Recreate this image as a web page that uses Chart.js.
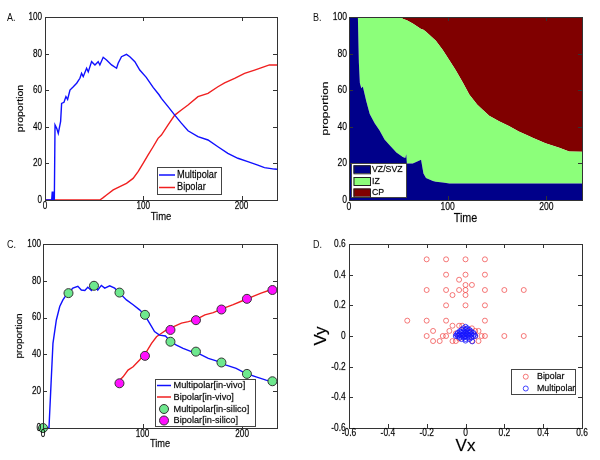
<!DOCTYPE html>
<html>
<head>
<meta charset="utf-8">
<script src="https://cdn.jsdelivr.net/npm/chart.js@4.4.1/dist/chart.umd.min.js"></script>
<style>
  body { margin: 0; background: #fff; font-family: "Liberation Sans", Arial, sans-serif; }
  #page { position: relative; width: 600px; height: 460px; overflow: hidden; }
  .panel { position: absolute; width: 300px; height: 230px; }
  .tag { position: absolute; font-size: 10px; color: #111; line-height: 10px; transform: scaleX(0.9); transform-origin: left; }
</style>
</head>
<body>
<div id="page">
  <div class="panel" style="left:0;top:0"><canvas id="chartA" width="300" height="230"></canvas></div>
  <div class="panel" style="left:300px;top:0"><canvas id="chartB" width="300" height="230"></canvas></div>
  <div class="panel" style="left:0;top:230px"><canvas id="chartC" width="300" height="230"></canvas></div>
  <div class="panel" style="left:300px;top:230px"><canvas id="chartD" width="300" height="230"></canvas></div>
  <div class="tag" style="left:7px;top:13px">A.</div>
  <div class="tag" style="left:313px;top:13px">B.</div>
  <div class="tag" style="left:7px;top:240px">C.</div>
  <div class="tag" style="left:313px;top:240px">D.</div>
</div>
<script>
// ---- A. multipolar / bipolar proportion over time ----
const timeMultiA = [0, 6.8, 7.4, 8.1, 9.5, 10.2, 12, 13.5, 15.9, 16.9, 19.3, 21.3, 23, 25.4, 28.8, 32.2, 35.5, 37.2, 38.9, 42.3, 44, 47.4, 50.8, 54.1, 55.8, 59.2, 62.6, 67.7, 72.8, 74.4, 77.8, 82.9, 86.3, 91.4, 96.4, 103, 110, 116, 118.4, 125.2, 132, 138.7, 145.5, 155.6, 165.8, 175.9, 186, 196.2, 206.3, 216.5, 223.2, 228.3, 233.4, 236];
const multipolarA = [0, 0, 4.6, 0, 0, 41, 39, 36.4, 43, 52.8, 53.4, 56.5, 55, 60.1, 61.9, 63.8, 66.5, 69.2, 67.4, 72, 70, 75.6, 73.8, 75.6, 73.8, 78, 76.5, 73.8, 72, 74.7, 78.3, 79.6, 78.3, 75.6, 71, 67, 61.5, 57.5, 55.5, 51, 46.4, 42, 37.8, 34.6, 32.8, 29.1, 25.5, 22.8, 21, 19.1, 17.7, 17.3, 16.9, 16.8];
const timeBiA = [0, 55.8, 59.2, 62.6, 69.4, 76.1, 82.9, 89.6, 94.7, 99.8, 104.9, 110, 115, 118.4, 125.2, 132, 138.7, 145.5, 155.6, 165.8, 175.9, 182.7, 192.9, 203, 213.2, 223.3, 228.3, 236];
const bipolarA = [0, 0, 1.3, 2.7, 5.5, 7.3, 9.1, 11.8, 15.5, 20, 24.6, 29.1, 33.7, 35.5, 41, 46.4, 49.2, 51.9, 56.5, 58.3, 61.9, 64, 66.5, 69.2, 71, 72.9, 73.8, 73.8];

// ---- B. zone occupancy (stacked shares) ----
const timeB = [0, 9, 10, 11, 12.5, 14, 17.5, 21, 26, 31, 36, 41, 48, 52, 54.5, 57, 58, 58.6, 64.6, 73, 75.4, 78, 85, 88, 95, 101.7, 108, 115, 122, 130, 142, 152, 162, 172, 180, 186, 199, 213, 223, 236];
const vzShare = [100, 100, 75, 64, 61, 62, 54, 47, 42, 38, 33, 30, 26, 24.5, 23.5, 23, 25, 20, 20, 22, 14.5, 12, 10.4, 10, 9.5, 9, 9, 9, 9, 9, 9, 9, 9, 9, 9, 9, 9, 9, 9, 9];
const izShare = [0, 0, 25, 36, 39, 38, 46, 53, 58, 62, 67, 70, 74, 75.5, 75.5, 75.5, 73.3, 78.2, 76.4, 71.5, 78.5, 80, 78.1, 77, 72.5, 67.4, 62, 55.5, 48.5, 43, 37, 34, 31.5, 28.5, 26.5, 25, 22, 19.5, 17.5, 17.3];
const cpShare = [0, 0, 0, 0, 0, 0, 0, 0, 0, 0, 0, 0, 0, 0, 1, 1.5, 1.7, 1.8, 3.6, 6.5, 7, 8, 11.5, 13, 18, 23.6, 29, 35.5, 42.5, 48, 54, 57, 59.5, 62.5, 64.5, 66, 69, 71.5, 73.5, 73.7];

// ---- C. in-vivo vs in-silico ----
const timeMultiC = [0, 6, 8.4, 10, 13.4, 16.8, 20, 23.5, 30, 35, 38.5, 42, 45, 48.6, 52, 55, 58.6, 62, 67, 72, 77, 83.8, 90.5, 97, 102, 107, 112, 117, 123, 128, 134, 140.7, 149, 157.5, 166, 174, 184, 194, 204, 214, 224, 234.5];
const multiVivoC = [0, 0, 27.8, 46, 58.7, 66, 69.6, 72.4, 76, 77, 75, 74.7, 76.5, 74.7, 77.3, 75, 77.5, 76, 77.3, 76, 73.3, 69.6, 67, 64.2, 61.5, 57, 52.4, 50.5, 50, 47, 45, 43.3, 41.5, 40.2, 37.8, 36.5, 34.2, 32.4, 29.6, 27.8, 26, 24.5];
const timeBiC = [77, 80.4, 85.4, 90.5, 97, 104, 109, 114, 119, 124, 130.7, 139, 146, 154, 162.6, 171, 181, 191, 201, 211, 219, 228, 234.5];
const biVivoC = [26, 27.8, 31.5, 33.3, 37, 41.5, 46, 49.6, 51.5, 53.3, 55, 57, 57.8, 59, 61.5, 62.7, 65, 67, 69.3, 71.5, 73.3, 75, 75.5];
const timeSilicoMulti = [0, 25.6, 51.2, 76.8, 102.4, 128, 153.6, 179.2, 204.8, 230.4];
const multiSilicoC = [0, 73.3, 77.3, 73.6, 61.5, 46.9, 41.5, 35.6, 29.4, 25.4];
const timeSilicoBi = [76.8, 102.4, 128, 153.6, 179.2, 204.8, 230.4];
const biSilicoC = [24.3, 39.2, 53.3, 58.6, 64.4, 70.2, 75];

// ---- D. velocity scatter ----
const bipolarVx = [-0.2, -0.1, 0, 0.1, -0.1, 0, 0.1, -0.033, 0, 0.033, -0.2, -0.1, -0.033, 0, 0.1, 0.2, 0.3, -0.067, 0, -0.1, 0, 0.1, -0.3, -0.2, -0.1, 0.1, -0.2, -0.1, 0, 0.1, 0.2, 0.3, -0.167, -0.167, -0.133, -0.117, -0.067, -0.083, -0.067, -0.05, -0.033, -0.017, 0.033, 0.067, 0.083, 0.067, 0.05, 0.033, -0.05, 0.017, 0.05, -0.033];
const bipolarVy = [0.5, 0.5, 0.5, 0.5, 0.4, 0.4, 0.4, 0.367, 0.333, 0.333, 0.3, 0.3, 0.3, 0.3, 0.3, 0.3, 0.3, 0.267, 0.267, 0.2, 0.2, 0.2, 0.1, 0.1, 0.1, 0.1, 0, 0, 0, 0, 0, 0, 0.033, -0.033, -0.033, 0, 0.067, 0.033, -0.033, -0.033, 0.067, 0.067, 0.05, 0.033, 0, -0.033, 0, -0.033, 0.017, 0.033, 0.033, -0.017];
const multipolarVx = [0, -0.01, 0.01, -0.02, 0, 0.02, -0.03, -0.01, 0.01, 0.03, -0.04, -0.02, 0, 0.02, 0.04, -0.045, -0.03, -0.01, 0.01, 0.03, 0.045, -0.04, -0.02, 0, 0.02, 0.04, 0.05, -0.05, -0.03, -0.01, 0.01, 0.03, -0.02, 0, 0.02, 0.035, 0, -0.015, 0.015, 0.005, -0.005, 0.025, -0.025, 0.005, -0.035];
const multipolarVy = [0.06, 0.05, 0.05, 0.04, 0.04, 0.04, 0.03, 0.03, 0.03, 0.03, 0.02, 0.02, 0.02, 0.02, 0.02, 0.01, 0.01, 0.01, 0.01, 0.01, 0.01, 0, 0, 0, 0, 0, 0, 0, -0.01, -0.01, -0.01, -0.01, -0.02, -0.02, -0.02, -0.035, -0.03, 0.005, 0.005, 0.015, -0.005, 0.025, 0.025, 0.045, 0.005];

const BLUE = '#1010ff', RED = '#f02020';
const FONT = '"Liberation Sans", Arial, sans-serif';
Chart.defaults.font.family = FONT;
Chart.defaults.animation = false;

const pts = (xs, ys) => xs.map((x, i) => ({ x: x, y: ys[i] }));
const fmt = v => String(Math.round(v * 10) / 10);

// text squeezed sideways, the way the original figure was squeezed
function drawText(ctx, text, x, y, size, sx, align, vertical) {
  ctx.save();
  ctx.translate(x, y);
  if (vertical) {
    ctx.rotate(-Math.PI / 2);
    ctx.scale(1, sx);
  } else {
    ctx.scale(sx, 1);
  }
  ctx.font = size + 'px ' + FONT;
  ctx.fillStyle = '#000';
  ctx.strokeStyle = 'rgba(0,0,0,0.45)';
  ctx.lineWidth = 0.4;
  ctx.textAlign = align;
  ctx.textBaseline = 'middle';
  ctx.fillText(text, 0, 0);
  ctx.strokeText(text, 0, 0);
  ctx.restore();
}

// Matlab-like boxed axes with inward ticks on all four sides
const matlabBox = {
  id: 'matlabBox',
  afterDatasetsDraw(chart) {
    const { ctx, chartArea: a, scales } = chart;
    ctx.save();
    ctx.strokeStyle = '#333';
    ctx.lineWidth = 1;
    ctx.strokeRect(Math.round(a.left) + 0.5, Math.round(a.top) + 0.5, Math.round(a.right - a.left), Math.round(a.bottom - a.top));
    ctx.beginPath();
    scales.x.ticks.forEach(t => {
      const p = Math.round(scales.x.getPixelForValue(t.value)) + 0.5;
      ctx.moveTo(p, a.bottom); ctx.lineTo(p, a.bottom - 4);
      ctx.moveTo(p, a.top); ctx.lineTo(p, a.top + 4);
    });
    scales.y.ticks.forEach(t => {
      const p = Math.round(scales.y.getPixelForValue(t.value)) + 0.5;
      ctx.moveTo(a.left, p); ctx.lineTo(a.left + 4, p);
      ctx.moveTo(a.right, p); ctx.lineTo(a.right - 4, p);
    });
    ctx.stroke();
    ctx.restore();
  }
};

// tick labels and axis titles, placed from the scales
const axisText = {
  id: 'axisText',
  afterDraw(chart, args, o) {
    const { ctx, chartArea: a, scales: { x, y } } = chart;
    x.ticks.forEach(t => drawText(ctx, fmt(t.value), x.getPixelForValue(t.value), o.xTickY, o.tickSize, o.tickSx, 'center'));
    y.ticks.forEach(t => drawText(ctx, fmt(t.value), o.yTickX, y.getPixelForValue(t.value), o.tickSize, o.tickSx, 'right'));
    drawText(ctx, o.xTitle[0], (a.left + a.right) / 2, o.xTitle[1], o.xTitle[2], o.xTitle[3], 'center');
    drawText(ctx, o.yTitle[0], o.yTitle[1], (a.top + a.bottom) / 2, o.yTitle[2], o.yTitle[3], 'center', true);
  }
};

// legend box drawn inside the plot, entries taken from the datasets
const boxLegend = {
  id: 'boxLegend',
  afterDraw(chart, args, o) {
    const ctx = chart.ctx;
    const [x, y, w, h] = o.box;
    ctx.save();
    ctx.fillStyle = '#fff';
    ctx.fillRect(x, y, w, h);
    ctx.strokeStyle = '#444';
    ctx.lineWidth = 1;
    ctx.strokeRect(x + 0.5, y + 0.5, w, h);
    chart.data.datasets.forEach((ds, i) => {
      const cy = o.rows[i];
      const [s0, s1] = o.sym;
      if (ds.legendKind === 'line') {
        ctx.strokeStyle = ds.borderColor;
        ctx.lineWidth = 1.5;
        ctx.beginPath(); ctx.moveTo(s0, cy); ctx.lineTo(s1, cy); ctx.stroke();
      } else if (ds.legendKind === 'patch') {
        ctx.fillStyle = ds.backgroundColor;
        ctx.fillRect(s0, cy - 4, s1 - s0, 8);
        ctx.strokeStyle = '#222';
        ctx.lineWidth = 1;
        ctx.strokeRect(s0 + 0.5, cy - 3.5, s1 - s0, 8);
      } else {
        ctx.beginPath();
        ctx.arc((s0 + s1) / 2, cy, ds.pointRadius, 0, Math.PI * 2);
        if (ds.pointBackgroundColor !== 'transparent') {
          ctx.fillStyle = ds.pointBackgroundColor; ctx.fill();
        }
        ctx.strokeStyle = ds.pointBorderColor;
        ctx.lineWidth = ds.pointBorderWidth || 1;
        ctx.stroke();
      }
      drawText(ctx, ds.label, o.textX, cy, o.size, o.sx, 'left');
    });
    ctx.restore();
  }
};

// scales keep fixed sizes so the plot boxes land where the original's do
function axes(cfg) {
  const common = { type: 'linear', grid: { display: false, drawTicks: false }, border: { display: false }, title: { display: false } };
  return {
    x: Object.assign({}, common, {
      min: cfg.xMin, max: cfg.xMax,
      ticks: { display: false, stepSize: cfg.xStep, includeBounds: false },
      afterFit: s => { s.height = cfg.xH; }
    }),
    y: Object.assign({}, common, {
      min: cfg.yMin, max: cfg.yMax, stacked: !!cfg.stacked,
      ticks: { display: false, stepSize: cfg.yStep, includeBounds: false },
      afterFit: s => { s.width = cfg.yW; }
    })
  };
}

const base = { responsive: false, devicePixelRatio: 1, events: [] };

// A
new Chart(document.getElementById('chartA'), {
  type: 'line',
  data: {
    datasets: [
      { label: 'Multipolar', data: pts(timeMultiA, multipolarA), borderColor: BLUE, borderWidth: 1.4, pointRadius: 0, legendKind: 'line' },
      { label: 'Bipolar', data: pts(timeBiA, bipolarA), borderColor: RED, borderWidth: 1.4, pointRadius: 0, legendKind: 'line' }
    ]
  },
  options: Object.assign({}, base, {
    layout: { padding: { left: 0, top: 17, right: 23, bottom: 0 } },
    scales: axes({ xMin: 0, xMax: 236, xStep: 100, yMin: 0, yMax: 100, yStep: 20, xH: 30, yW: 45 }),
    plugins: { legend: { display: false }, tooltip: { enabled: false },
               axisText: { tickSize: 11, tickSx: 0.74, xTickY: 206, yTickX: 42, xTitle: ['Time', 217, 11, 0.86], yTitle: ['proportion', 21, 10.5, 0.85] },
               boxLegend: { box: [157, 167, 64, 27], rows: [175, 187.5], sym: [159, 175], textX: 177, size: 10.5, sx: 0.88 } }
  }),
  plugins: [matlabBox, axisText, boxLegend]
});

// B
new Chart(document.getElementById('chartB'), {
  type: 'line',
  data: {
    datasets: [
      { label: 'VZ/SVZ', data: pts(timeB, vzShare), backgroundColor: '#00008a', borderWidth: 0, pointRadius: 0, fill: 'origin', legendKind: 'patch' },
      { label: 'IZ', data: pts(timeB, izShare), backgroundColor: '#8cff7a', borderWidth: 0, pointRadius: 0, fill: '-1', legendKind: 'patch' },
      { label: 'CP', data: pts(timeB, cpShare), backgroundColor: '#800000', borderWidth: 0, pointRadius: 0, fill: '-1', legendKind: 'patch' }
    ]
  },
  options: Object.assign({}, base, {
    layout: { padding: { left: 0, top: 17, right: 18, bottom: 0 } },
    scales: axes({ xMin: 0, xMax: 236, xStep: 100, yMin: 0, yMax: 100, yStep: 20, stacked: true, xH: 30, yW: 49 }),
    plugins: { legend: { display: false }, tooltip: { enabled: false },
               axisText: { tickSize: 11, tickSx: 0.78, xTickY: 207, yTickX: 47, xTitle: ['Time', 218, 13.5, 0.8], yTitle: ['proportion', 25, 12, 0.8] },
               boxLegend: { box: [51, 163, 55, 34], rows: [169.3, 181, 192.5], sym: [53.5, 70], textX: 72, size: 9.5, sx: 0.92 } }
  }),
  plugins: [matlabBox, axisText, boxLegend]
});

// C
new Chart(document.getElementById('chartC'), {
  type: 'line',
  data: {
    datasets: [
      { label: 'Multipolar[in-vivo]', data: pts(timeMultiC, multiVivoC), borderColor: BLUE, borderWidth: 1.4, pointRadius: 0, order: 2, legendKind: 'line' },
      { label: 'Bipolar[in-vivo]', data: pts(timeBiC, biVivoC), borderColor: RED, borderWidth: 1.4, pointRadius: 0, order: 2, legendKind: 'line' },
      { label: 'Multipolar[in-silico]', data: pts(timeSilicoMulti, multiSilicoC), showLine: false, pointRadius: 4.5,
        pointBackgroundColor: '#6ee88e', pointBorderColor: '#333', pointBorderWidth: 1, order: 1, clip: false, legendKind: 'marker' },
      { label: 'Bipolar[in-silico]', data: pts(timeSilicoBi, biSilicoC), showLine: false, pointRadius: 4.5,
        pointBackgroundColor: '#ff10ff', pointBorderColor: '#333', pointBorderWidth: 1, order: 1, clip: false, legendKind: 'marker' }
    ]
  },
  options: Object.assign({}, base, {
    layout: { padding: { left: 0, top: 14, right: 23, bottom: 0 } },
    scales: axes({ xMin: 0, xMax: 235, xStep: 100, yMin: 0, yMax: 100, yStep: 20, xH: 32, yW: 43 }),
    plugins: { legend: { display: false }, tooltip: { enabled: false },
               axisText: { tickSize: 10.5, tickSx: 0.78, xTickY: 204.5, yTickX: 41, xTitle: ['Time', 214, 10.5, 0.88], yTitle: ['proportion', 20, 10, 0.88] },
               boxLegend: { box: [155, 149, 100, 47], rows: [155.5, 167, 179, 190.5], sym: [157, 171], textX: 173.5, size: 9.5, sx: 0.97 } }
  }),
  plugins: [matlabBox, axisText, boxLegend]
});

// D
new Chart(document.getElementById('chartD'), {
  type: 'scatter',
  data: {
    datasets: [
      { label: 'Bipolar', data: pts(bipolarVx, bipolarVy), pointRadius: 2.5, pointBackgroundColor: 'transparent',
        pointBorderColor: 'rgba(240,50,50,0.65)', pointBorderWidth: 1, order: 1, legendKind: 'marker' },
      { label: 'Multipolar', data: pts(multipolarVx, multipolarVy), pointRadius: 2.5, pointBackgroundColor: 'transparent',
        pointBorderColor: 'rgba(20,20,255,0.8)', pointBorderWidth: 1, order: 0, legendKind: 'marker' }
    ]
  },
  options: Object.assign({}, base, {
    layout: { padding: { left: 0, top: 14, right: 18, bottom: 0 } },
    scales: axes({ xMin: -0.6, xMax: 0.6, xStep: 0.2, yMin: -0.6, yMax: 0.6, yStep: 0.2, xH: 32, yW: 49 }),
    plugins: { legend: { display: false }, tooltip: { enabled: false },
               axisText: { tickSize: 10.5, tickSx: 0.8, xTickY: 202.7, yTickX: 45.7, xTitle: ['Vx', 216, 17, 1], yTitle: ['Vy', 21.7, 17, 1] },
               boxLegend: { box: [211, 139, 64, 25], rows: [146.7, 158.5], sym: [222, 229.5], textX: 237, size: 9.8, sx: 0.9 } }
  }),
  plugins: [matlabBox, axisText, boxLegend]
});
</script>
</body>
</html>
